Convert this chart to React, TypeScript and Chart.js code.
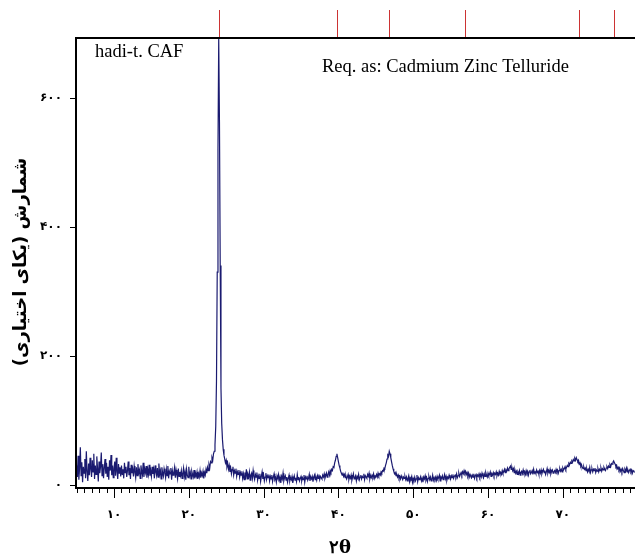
import React, { useEffect, useRef } from "react";
import { Chart, registerables } from "chart.js";

Chart.register(...registerables);

// 2θ grid: first angle and step (degrees)
const START_ANGLE = 5.0;
const STEP = 0.1;

const counts: number[] = [
  30, 12, 45, 8, 26, 58, 14, 35, 4, 28, 18, 40, 10, 52, 20, 6, 33, 15, 42, 24, // 5-7
  12, 38, 20, 48, 9, 30, 16, 44, 25, 5, 36, 18, 28, 50, 14, 32, 10, 26, 40, 17, // 7-9
  34, 12, 28, 8, 38, 22, 46, 15, 30, 11, 26, 36, 14, 42, 20, 9, 32, 18, 27, 13, // 9-11
  30, 16, 24, 10, 34, 19, 28, 12, 22, 36, 15, 26, 9, 31, 18, 24, 13, 29, 20, 11, // 11-13
  27, 14, 32, 18, 23, 10, 30, 21, 15, 34, 12, 25, 19, 29, 11, 24, 16, 31, 14, 22, // 13-15
  13, 28, 17, 24, 10, 30, 20, 14, 26, 12, 33, 16, 22, 9, 27, 18, 13, 25, 19, 11, // 15-17
  24, 14, 29, 10, 21, 17, 26, 8, 22, 15, 19, 27, 11, 23, 16, 9, 25, 13, 20, 14, // 17-19
  22, 10, 18, 26, 12, 20, 8, 24, 15, 11, 28, 14, 19, 9, 21, 16, 12, 23, 10, 18, // 19-21
  13, 20, 9, 17, 12, 22, 11, 18, 14, 21, 10, 19, 15, 24, 18, 27, 22, 31, 26, 36, // 21-23
  34, 42, 38, 48, 52, 62, 90, 160, 330, 520, 692, 560, 340, 150, 95, 70, 55, 46, 40, 34, // 23-25
  38, 28, 33, 24, 30, 20, 26, 17, 24, 28, 15, 22, 18, 25, 13, 20, 16, 23, 12, 19, // 25-27
  15, 21, 10, 17, 8, 19, 13, 24, 9, 16, 12, 20, 7, 15, 18, 10, 22, 13, 8, 16, // 27-29
  12, 19, 7, 14, 10, 17, 5, 13, 20, 9, 15, 6, 12, 18, 8, 14, 11, 16, 6, 13, // 29-31
  9, 15, 5, 12, 17, 8, 11, 4, 14, 10, 16, 7, 12, 3, 13, 9, 18, 6, 11, 14, // 31-33
  7, 12, 4, 10, 15, 6, 11, 8, 13, 3, 9, 14, 7, 11, 5, 16, 8, 12, 6, 10, // 33-35
  13, 6, 11, 8, 15, 4, 12, 9, 14, 7, 10, 16, 6, 12, 9, 13, 5, 11, 15, 8, // 35-37
  12, 7, 14, 10, 16, 8, 13, 11, 9, 15, 12, 17, 10, 14, 18, 12, 16, 20, 15, 22, // 37-39
  19, 24, 22, 28, 27, 34, 38, 44, 48, 42, 36, 30, 26, 21, 18, 15, 19, 13, 16, 11, // 39-41
  14, 9, 12, 16, 8, 13, 10, 15, 7, 12, 17, 9, 11, 14, 6, 13, 10, 16, 8, 12, // 41-43
  15, 9, 13, 11, 17, 8, 14, 12, 10, 16, 13, 18, 9, 14, 11, 15, 12, 17, 10, 14, // 43-45
  13, 16, 12, 18, 14, 17, 15, 20, 18, 22, 21, 26, 25, 30, 34, 40, 46, 44, 52, 48, // 45-47
  42, 36, 30, 25, 21, 17, 19, 14, 16, 12, 15, 10, 13, 9, 14, 11, 8, 12, 10, 13, // 47-49
  8, 12, 6, 10, 14, 5, 11, 9, 13, 4, 10, 7, 12, 6, 9, 15, 5, 11, 8, 10, // 49-51
  13, 6, 10, 4, 12, 9, 14, 7, 11, 5, 10, 13, 8, 12, 6, 9, 15, 7, 11, 8, // 51-53
  12, 7, 13, 9, 11, 15, 6, 12, 10, 14, 8, 11, 16, 9, 13, 7, 12, 10, 15, 11, // 53-55
  9, 14, 11, 16, 10, 13, 15, 12, 17, 11, 14, 18, 13, 16, 19, 15, 20, 17, 22, 18, // 55-57
  21, 16, 19, 14, 18, 12, 16, 13, 11, 15, 12, 17, 10, 14, 16, 11, 15, 13, 17, 12, // 57-59
  16, 12, 18, 14, 11, 17, 13, 19, 15, 12, 18, 14, 16, 20, 13, 17, 15, 19, 14, 18, // 59-61
  16, 20, 14, 18, 15, 21, 17, 19, 16, 22, 18, 20, 24, 19, 23, 21, 26, 22, 25, 27, // 61-63
  29, 24, 27, 22, 25, 19, 23, 18, 21, 16, 20, 17, 22, 15, 19, 21, 17, 23, 18, 20, // 63-65
  16, 22, 18, 21, 15, 20, 23, 17, 19, 22, 16, 24, 18, 20, 17, 23, 19, 21, 16, 22, // 65-67
  18, 23, 17, 21, 24, 19, 22, 16, 20, 25, 18, 22, 19, 24, 17, 21, 23, 18, 20, 22, // 67-69
  19, 24, 20, 23, 18, 22, 25, 21, 24, 20, 26, 23, 25, 28, 24, 27, 30, 28, 33, 31, // 69-71
  35, 33, 37, 35, 39, 37, 41, 38, 42, 39, 36, 38, 32, 34, 29, 31, 27, 25, 28, 24, // 71-73
  26, 22, 25, 20, 24, 21, 27, 19, 23, 25, 20, 24, 22, 26, 19, 23, 21, 25, 20, 24, // 73-75
  22, 26, 21, 25, 23, 27, 24, 22, 26, 28, 25, 29, 27, 31, 28, 33, 32, 35, 37, 34, // 75-77
  32, 28, 30, 25, 27, 23, 26, 21, 24, 20, 25, 22, 19, 24, 21, 26, 20, 23, 19, 22, // 77-79
  24, 20, 23, 18, 22, 21, 19, // 79-79.6
];

// Reference line positions (2θ) drawn above the frame
const refAngles: number[] = [24.0, 39.8, 46.8, 56.9, 72.2, 76.8];

// Tick values
const xMajorTicks: number[] = [10, 20, 30, 40, 50, 60, 70];
const xMinorTicks: number[] = [
  5, 6, 7, 8, 9, 11, 12, 13, 14, 15, 16, 17, 18, 19, 21, 22, 23, 24, 25, 26, 27, 28, 29,
  31, 32, 33, 34, 35, 36, 37, 38, 39, 41, 42, 43, 44, 45, 46, 47, 48, 49, 51, 52, 53, 54,
  55, 56, 57, 58, 59, 61, 62, 63, 64, 65, 66, 67, 68, 69, 71, 72, 73, 74, 75, 76, 77, 78, 79,
];
const yTicks: number[] = [0, 200, 400, 600];

const X_MIN = 4.92;
const X_MAX = 79.65;
const Y_MIN = -5;
const Y_MAX = 693;

const yTitle = "شمارش (یکای اختیاری)";
const xTitle = "۲θ";
const sampleLabel = "hadi-t. CAF";
const matchLabel = "Req. as: Cadmium Zinc Telluride";

const faDigits = "۰۱۲۳۴۵۶۷۸۹";
const toFa = (n: number) => String(n).replace(/\d/g, (d) => faDigits[Number(d)]);

const decorPlugin = {
  id: "decor",
  afterDraw(chart: any) {
    const { ctx, chartArea, scales } = chart;
    const xs = scales.x;
    const ys = scales.y;
    const { left, right, top, bottom } = chartArea;
    ctx.save();

    // reference lines above frame
    ctx.fillStyle = "#cc3333";
    refAngles.forEach((a) => {
      const px = Math.round(xs.getPixelForValue(a));
      ctx.fillRect(px, 10, 1, top - 10);
    });

    // frame
    ctx.strokeStyle = "#000";
    ctx.lineWidth = 2;
    ctx.beginPath();
    ctx.moveTo(right + 2, top);
    ctx.lineTo(left, top);
    ctx.lineTo(left, bottom);
    ctx.lineTo(right + 2, bottom);
    ctx.stroke();

    // x ticks
    ctx.lineWidth = 1;
    xMinorTicks.forEach((v) => {
      const px = Math.round(xs.getPixelForValue(v)) + 0.5;
      ctx.beginPath();
      ctx.moveTo(px, bottom);
      ctx.lineTo(px, bottom + 5);
      ctx.stroke();
    });
    xMajorTicks.forEach((v) => {
      const px = Math.round(xs.getPixelForValue(v)) + 0.5;
      ctx.beginPath();
      ctx.moveTo(px, bottom);
      ctx.lineTo(px, bottom + 10);
      ctx.stroke();
    });
    // y ticks
    yTicks.forEach((v) => {
      const py = Math.round(ys.getPixelForValue(v)) + 0.5;
      ctx.beginPath();
      ctx.moveTo(left - 6, py);
      ctx.lineTo(left, py);
      ctx.stroke();
    });

    // tick labels
    ctx.fillStyle = "#000";
    ctx.font = "bold 12px 'DejaVu Sans'";
    ctx.textAlign = "center";
    ctx.textBaseline = "middle";
    xMajorTicks.forEach((v) => {
      ctx.fillText(toFa(v), xs.getPixelForValue(v), bottom + 27);
    });
    ctx.textAlign = "right";
    yTicks.forEach((v) => {
      ctx.fillText(toFa(v), left - 14, ys.getPixelForValue(v));
    });

    // axis titles
    ctx.font = "bold 18px 'DejaVu Serif'";
    ctx.textAlign = "center";
    ctx.fillText(xTitle, 340, 548);

    ctx.save();
    ctx.translate(21, 262);
    ctx.rotate(-Math.PI / 2);
    ctx.font = "bold 18px 'DejaVu Sans'";
    ctx.textAlign = "center";
    ctx.textBaseline = "middle";
    ctx.fillText(yTitle, 0, 0);
    ctx.restore();

    // annotations
    ctx.font = "18.5px 'Liberation Serif'";
    ctx.textAlign = "left";
    ctx.textBaseline = "middle";
    ctx.fillText(sampleLabel, 95, 52);
    ctx.fillText(matchLabel, 322, 67);

    ctx.restore();
  },
};

export default function App() {
  const ref = useRef<HTMLCanvasElement | null>(null);
  useEffect(() => {
    if (!ref.current) return;
    const data = counts.map((c, i) => ({ x: START_ANGLE + i * STEP, y: c }));
    const chart = new Chart(ref.current, {
      type: "line",
      data: {
        datasets: [
          {
            data,
            borderColor: "#1a1a70",
            borderWidth: 1.2,
            pointRadius: 0,
            tension: 0,
            fill: false,
          },
        ],
      },
      options: {
        animation: false,
        responsive: false,
        layout: { padding: { left: 76, top: 38, right: 0, bottom: 72 } },
        plugins: { legend: { display: false }, tooltip: { enabled: false } },
        scales: {
          x: { type: "linear", min: X_MIN, max: X_MAX, display: false },
          y: { type: "linear", min: Y_MIN, max: Y_MAX, display: false },
        },
      },
      plugins: [decorPlugin],
    });
    return () => chart.destroy();
  }, []);
  return (
    <div style={{ position: "fixed", left: 0, top: 0, width: 635, height: 560, background: "#fff" }}>
      <canvas ref={ref} width={635} height={560} style={{ display: "block" }} />
    </div>
  );
}
